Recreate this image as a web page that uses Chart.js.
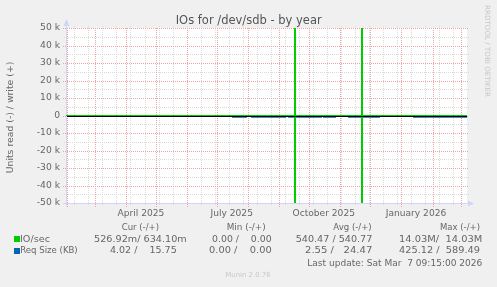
<!DOCTYPE html>
<html>
<head>
<meta charset="utf-8">
<script src="https://cdn.jsdelivr.net/npm/chart.js@4.4.0/dist/chart.umd.min.js"></script>
<style>
  html, body { margin: 0; padding: 0; background: #F0F0F0; }
  canvas { display: block; }
</style>
</head>
<body>
<canvas id="chart" width="497" height="287"></canvas>
<script>
// x values are days counted from 1 Jan 2025 (day 0)
var viewStart = 30.39;
var viewEnd = 430.39;

var monthStarts = [31, 59, 90, 120, 151, 181, 212, 243, 273, 304, 334, 365, 396, 424];
var monthLabels = ["April 2025", "July 2025", "October 2025", "January 2026"];
var monthLabelDays = [105.2, 195.7, 287.5, 379.5];

// IO/sec, read is drawn below zero, write above
var ioDays  = [30.39, 258.32, 258.32, 259.32, 325.16, 325.16, 326.16, 430.39];
var ioRead  = [0, 0, -14030000, 0, 0, -9800000, 0, 0];
var ioWrite = [0, 0, 14030000, 0, 0, 11200000, 0, 0];

// Req Size (KB), only known on these stretches
var reqFrom  = [196.0, 214.9, 251.8, 286.7, 311.7, 376.5];
var reqTo    = [211.0, 249.8, 285.8, 299.7, 343.6, 430.39];
var reqRead  = [-2.4, -2.6, -2.5, -2.7, -2.3, -4.02];
var reqWrite = [24.1, 25.3, 23.8, 24.9, 24.6, 15.75];

// legend table
var legendNames = ["IO/sec", "Req Size (KB)"];
var legendColors = ["#00CC00", "#0066B3"];
var legendHeads = ["Cur (-/+)", "Min (-/+)", "Avg (-/+)", "Max (-/+)"];
var curVals = ["526.92m/ 634.10m", "4.02 /    15.75"];
var minVals = ["0.00 /    0.00", "0.00 /    0.00"];
var avgVals = ["540.47 / 540.77", "2.55 /   24.47"];
var maxVals = ["14.03M/  14.03M", "425.12 /  589.49"];
var lastUpdate = "Last update: Sat Mar  7 09:15:00 2026";

function ioPoints(vals) {
    return ioDays.map(function (d, i) { return {x: d, y: vals[i]}; });
}
function reqPoints(vals) {
    var pts = [];
    for (let i = 0; i < reqFrom.length; i++) {
        pts.push({x: reqFrom[i], y: vals[i]});
        pts.push({x: reqTo[i], y: vals[i]});
        if (i < reqFrom.length - 1) pts.push({x: (reqTo[i] + reqFrom[i + 1]) / 2, y: null});
    }
    return pts;
}

var FONT = "DejaVu Sans";

// draw text squeezed/stretched into a measured span
function fitText(ctx, str, x0, x1, y, size, color) {
    ctx.save();
    ctx.font = size + "px '" + FONT + "'";
    ctx.fillStyle = color;
    ctx.textBaseline = "middle";
    ctx.textAlign = "left";
    var w = ctx.measureText(str).width;
    ctx.translate(x0, y);
    ctx.scale((x1 - x0) / w, 1);
    ctx.fillText(str, 0, 0);
    ctx.restore();
}

// dotted 1px line, one pixel on / one off
function dotsV(ctx, x, y0, y1) {
    for (let y = Math.round(y0); y <= y1; y += 2) ctx.fillRect(x, y, 1, 1);
}
function dotsH(ctx, y, x0, x1) {
    for (let x = Math.round(x0); x <= x1; x += 2) ctx.fillRect(x, y, 1, 1);
}

var rrdPlugin = {
    id: "rrd",
    beforeDraw: function (chart) {
        var ctx = chart.ctx, a = chart.chartArea;
        var xs = chart.scales.x, ys = chart.scales.y;
        ctx.save();
        ctx.fillStyle = "#F0F0F0";
        ctx.fillRect(0, 0, chart.width, chart.height);
        ctx.fillStyle = "#FFFFFF";
        ctx.fillRect(a.left, a.top, a.right - a.left, a.bottom - a.top);

        // minor grid
        ctx.fillStyle = "#DADADA";
        for (let d = 38.7; d < viewEnd; d += 14) {
            dotsV(ctx, Math.round(xs.getPixelForValue(d)), a.top - 2, a.bottom + 2);
        }
        for (let v = -45000; v <= 45000; v += 10000) {
            dotsH(ctx, Math.round(ys.getPixelForValue(v)), a.left - 2, a.right + 2);
        }
        // major grid
        ctx.fillStyle = "#EDA4A4";
        monthStarts.forEach(function (d) {
            dotsV(ctx, Math.round(xs.getPixelForValue(d)), a.top, a.bottom + 3);
        });
        for (let v = -50000; v <= 50000; v += 10000) {
            dotsH(ctx, Math.round(ys.getPixelForValue(v)), a.left - 3, a.right);
        }

        // axes with arrows
        ctx.strokeStyle = "#CFD6F8";
        ctx.fillStyle = "#CFD6F8";
        ctx.lineWidth = 1;
        var ax = Math.round(a.left) + 0.5, ay = Math.round(a.bottom) + 0.5;
        ctx.beginPath();
        ctx.moveTo(ax, a.bottom + 3); ctx.lineTo(ax, a.top - 6);
        ctx.moveTo(a.left - 3, ay); ctx.lineTo(a.right + 5, ay);
        ctx.stroke();
        ctx.beginPath();
        ctx.moveTo(ax, a.top - 9); ctx.lineTo(ax - 3, a.top - 2); ctx.lineTo(ax + 3, a.top - 2);
        ctx.closePath(); ctx.fill();
        ctx.beginPath();
        ctx.moveTo(a.right + 7, ay); ctx.lineTo(a.right + 1, ay - 3); ctx.lineTo(a.right + 1, ay + 3);
        ctx.closePath(); ctx.fill();
        ctx.restore();
    },
    beforeDatasetDraw: function (chart, args) {
        if (args.index >= 2) { chart.ctx.save(); chart.ctx.translate(0, 1); }
    },
    afterDatasetDraw: function (chart, args) {
        if (args.index >= 2) chart.ctx.restore();
    },
    afterDatasetsDraw: function (chart) {
        var ctx = chart.ctx, a = chart.chartArea;
        var zy = Math.round(chart.scales.y.getPixelForValue(0)) + 0.5;
        ctx.save();
        ctx.strokeStyle = "#000000";
        ctx.lineWidth = 1;
        ctx.beginPath();
        ctx.moveTo(a.left + 1, zy); ctx.lineTo(a.right, zy);
        ctx.stroke();
        ctx.restore();
    },
    afterDraw: function (chart) {
        var ctx = chart.ctx;
        fitText(ctx, "IOs for /dev/sdb - by year", 175.7, 321.7, 21, 11.5, "#555555");

        ctx.save();
        ctx.translate(11, 117.5);
        ctx.rotate(-Math.PI / 2);
        fitText(ctx, "Units read (-) / write (+)", -55.8, 55.8, 0, 9.3, "#666666");
        ctx.restore();

        ctx.save();
        ctx.translate(487, 51);
        ctx.rotate(Math.PI / 2);
        fitText(ctx, "RRDTOOL / TOBI OETIKER", -46, 46, 0, 7.2, "#C8C8C8");
        ctx.restore();

        var headSpans = [[121.7, 159], [226.7, 265.7], [333.3, 371.7], [440, 480]];
        legendHeads.forEach(function (h, i) {
            fitText(ctx, h, headSpans[i][0], headSpans[i][1], 227.7, 9.3, "#666666");
        });
        var rowY = [239.3, 251];
        var nameSpans = [[20, 50], [20.3, 77.7]];
        var valSpans = [
            [[94, 186.7], [212, 271.7], [295.7, 372.3], [399, 482.3]],
            [[110, 176.7], [209, 271.7], [305, 372.3], [399, 480]]
        ];
        for (let r = 0; r < legendNames.length; r++) {
            ctx.fillStyle = legendColors[r];
            ctx.fillRect(14, Math.round(rowY[r]) - 3, 6, 6);
            fitText(ctx, legendNames[r], nameSpans[r][0], nameSpans[r][1], rowY[r], 9.3, "#666666");
            var vals = [curVals[r], minVals[r], avgVals[r], maxVals[r]];
            vals.forEach(function (v, c) {
                fitText(ctx, v, valSpans[r][c][0], valSpans[r][c][1], rowY[r], 9.3, "#666666");
            });
        }
        fitText(ctx, lastUpdate, 307.3, 482.3, 263.3, 9.3, "#666666");
        fitText(ctx, "Munin 2.0.76", 225.3, 270.7, 275, 7, "#C8C8C8");
    }
};

var ctx = document.getElementById("chart");
var chart = new Chart(ctx, {
    type: "line",
    data: {
        datasets: [
            {label: "IO/sec read", data: ioPoints(ioRead), borderColor: "#00CC00", borderWidth: 1},
            {label: "IO/sec write", data: ioPoints(ioWrite), borderColor: "#00CC00", borderWidth: 1},
            {label: "Req Size read", data: reqPoints(reqRead), borderColor: "#0066B3", borderWidth: 2},
            {label: "Req Size write", data: reqPoints(reqWrite), borderColor: "#0066B3", borderWidth: 2}
        ]
    },
    options: {
        responsive: false,
        animation: false,
        layout: {padding: {top: 28, right: 30, left: 0, bottom: 0}},
        elements: {point: {radius: 0}, line: {tension: 0, fill: false}},
        spanGaps: false,
        plugins: {legend: {display: false}, tooltip: {enabled: false}, title: {display: false}},
        scales: {
            x: {
                type: "linear",
                min: viewStart,
                max: viewEnd,
                grid: {display: false, drawTicks: false},
                border: {display: false},
                afterBuildTicks: function (s) {
                    s.ticks = monthLabelDays.map(function (v) { return {value: v}; });
                },
                ticks: {
                    autoSkip: false, maxRotation: 0, padding: 5, color: "#666666",
                    font: {family: FONT, size: 9.1},
                    callback: function (v, i) { return monthLabels[i]; }
                },
                afterFit: function (s) { s.height = 84; }
            },
            y: {
                min: -50000,
                max: 50000,
                grid: {display: false, drawTicks: false},
                border: {display: false},
                ticks: {
                    stepSize: 10000, padding: 6, color: "#666666",
                    font: {family: FONT, size: 9.2},
                    callback: function (v) { return v === 0 ? "0" : (v / 1000) + " k"; }
                },
                afterFit: function (s) { s.width = 66; }
            }
        }
    },
    plugins: [rrdPlugin]
});
</script>
</body>
</html>
